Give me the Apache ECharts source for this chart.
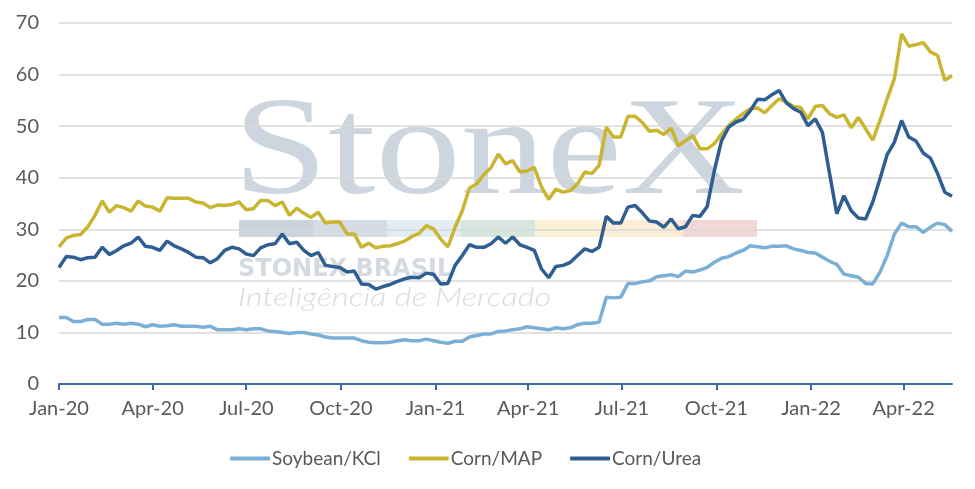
<!DOCTYPE html>
<html>
<head>
<meta charset="utf-8">
<script src="https://cdn.jsdelivr.net/npm/echarts@6/dist/echarts.min.js"></script>
<style>
  html, body { margin: 0; padding: 0; background: #fff; }
  #main { width: 975px; height: 489px; }
</style>
</head>
<body>
<div id="main"></div>
<script>
// weekly series, first point 1 Jan 2020
var startDate = Date.UTC(2020, 0, 1);
var endDate = Date.UTC(2022, 4, 18);

var seriesNames = ['Soybean/KCl', 'Corn/MAP', 'Corn/Urea'];
var seriesColors = ['#7bafd6', '#c9b52f', '#2f5e93'];

var soyKcl = [
    12.9, 12.9, 12.1, 12.1, 12.5, 12.5, 11.6, 11.6, 11.8, 11.6,
    11.8, 11.6, 11.1, 11.5, 11.2, 11.3, 11.5, 11.2, 11.2, 11.2,
    11.0, 11.2, 10.5, 10.5, 10.5, 10.7, 10.5, 10.7, 10.7, 10.3,
    10.2, 10.0, 9.8, 10.0, 10.0, 9.7, 9.5, 9.1, 8.9, 8.9,
    8.9, 8.9, 8.4, 8.1, 8.0, 8.0, 8.1, 8.4, 8.6, 8.4,
    8.4, 8.7, 8.4, 8.1, 7.9, 8.3, 8.3, 9.1, 9.4, 9.7,
    9.7, 10.2, 10.3, 10.5, 10.7, 11.1, 10.9, 10.7, 10.5, 10.9,
    10.7, 10.9, 11.5, 11.8, 11.8, 12.0, 16.8, 16.7, 16.8, 19.5,
    19.5, 19.8, 20.0, 20.8, 21.0, 21.2, 20.8, 21.9, 21.7, 22.1,
    22.6, 23.6, 24.4, 24.7, 25.4, 25.9, 26.8, 26.6, 26.4, 26.7,
    26.7, 26.8, 26.2, 25.9, 25.5, 25.4, 24.6, 23.8, 23.2, 21.3,
    21.0, 20.7, 19.5, 19.4, 21.7, 24.9, 29.1, 31.2, 30.5, 30.5,
    29.4, 30.4, 31.2, 30.9, 29.6
];

var cornMap = [
    26.6, 28.3, 28.8, 29.0, 30.5, 32.7, 35.5, 33.3, 34.6, 34.2,
    33.5, 35.5, 34.5, 34.3, 33.5, 36.1, 36.0, 36.0, 36.0, 35.3,
    35.1, 34.2, 34.7, 34.6, 34.8, 35.3, 33.8, 34.0, 35.6, 35.6,
    34.6, 35.3, 32.7, 34.1, 33.1, 32.3, 33.3, 31.2, 31.4, 31.4,
    29.1, 29.1, 26.5, 27.3, 26.4, 26.7, 26.8, 27.2, 27.7, 28.6,
    29.2, 30.7, 30.1, 28.1, 26.6, 30.4, 33.6, 38.0, 38.8, 40.6,
    42.0, 44.6, 42.7, 43.3, 41.1, 41.3, 42.0, 38.2, 35.8, 37.8,
    37.2, 37.5, 38.8, 41.1, 40.8, 42.4, 49.8, 47.9, 47.9, 51.9,
    51.9, 50.7, 49.0, 49.2, 48.4, 49.6, 46.2, 47.2, 48.2, 45.6,
    45.6, 46.6, 48.5, 50.1, 51.4, 52.4, 53.4, 53.5, 52.6, 54.0,
    55.3, 54.7, 53.8, 53.6, 51.4, 53.8, 54.0, 52.4, 51.7, 52.2,
    49.7, 51.7, 49.5, 47.3, 51.1, 55.3, 59.2, 67.9, 65.5, 65.8,
    66.2, 64.4, 63.7, 58.9, 59.8
];

var cornUrea = [
    22.6, 24.7, 24.6, 24.1, 24.5, 24.6, 26.5, 25.1, 25.9, 26.8,
    27.3, 28.5, 26.7, 26.5, 25.9, 27.7, 26.8, 26.2, 25.5, 24.6,
    24.5, 23.5, 24.3, 25.9, 26.5, 26.2, 25.2, 24.9, 26.4, 27.0,
    27.2, 29.1, 27.2, 27.5, 25.9, 24.9, 25.5, 23.0, 22.8, 22.6,
    21.7, 21.9, 19.4, 19.3, 18.4, 18.9, 19.3, 19.9, 20.4, 20.7,
    20.6, 21.5, 21.3, 19.4, 19.5, 23.0, 24.9, 27.0, 26.5, 26.5,
    27.2, 28.5, 27.3, 28.5, 27.0, 26.5, 25.9, 22.3, 20.6, 22.8,
    23.0, 23.6, 24.9, 26.2, 25.7, 26.5, 32.5, 31.2, 31.2, 34.3,
    34.6, 33.2, 31.6, 31.4, 30.4, 32.0, 30.1, 30.5, 32.7, 32.5,
    34.4, 41.4, 47.2, 49.8, 50.8, 51.3, 53.0, 55.2, 55.1, 56.1,
    56.9, 54.5, 53.4, 52.7, 50.1, 51.4, 48.8, 40.8, 33.0, 36.5,
    33.6, 32.2, 32.0, 35.3, 39.8, 44.5, 46.9, 51.1, 47.9, 47.1,
    44.8, 43.8, 40.8, 37.2, 36.4
];

var tickDates = [
    Date.UTC(2020, 0, 1), Date.UTC(2020, 3, 1), Date.UTC(2020, 6, 1), Date.UTC(2020, 9, 1),
    Date.UTC(2021, 0, 1), Date.UTC(2021, 3, 1), Date.UTC(2021, 6, 1), Date.UTC(2021, 9, 1),
    Date.UTC(2022, 0, 1), Date.UTC(2022, 3, 1)
];
var tickLabels = ['Jan-20', 'Apr-20', 'Jul-20', 'Oct-20', 'Jan-21', 'Apr-21',
    'Jul-21', 'Oct-21', 'Jan-22', 'Apr-22'];

var WEEK = 7 * 24 * 3600 * 1000;

function withDates(values) {
    var out = [];
    for (var i = 0; i < values.length; i++) {
        out.push([startDate + i * WEEK, values[i]]);
    }
    return out;
}

var font = 'Lato';
var labelColor = '#595959';

// faded logo behind the plot
var bandColors = ['#cbd3dc', '#d5dce6', '#e3edf6', '#d6e5dd', '#fcf0d6', '#fdecd6', '#f3d7d7'];
var logo = [
    {
        type: 'text', left: 233, top: 86, z: -5, scaleX: 1.22,
        style: { text: 'StoneX', font: '140px "Liberation Serif"', fill: '#cdd6de' }
    },
    {
        type: 'text', left: 238, top: 258, z: -5,
        style: { text: 'STONEX BRASIL', font: 'bold 24px "DejaVu Sans"', fill: '#d4dae0' }
    },
    {
        type: 'text', left: 238, top: 285, z: -5, scaleX: 1.3,
        style: { text: 'Inteligência de Mercado', font: 'italic 300 25px Lato', fill: '#d6dce2' }
    }
];
for (var b = 0; b < bandColors.length; b++) {
    logo.push({
        type: 'rect', z: -5,
        shape: { x: 239 + b * 74, y: 220, width: 74, height: 17 },
        style: { fill: bandColors[b] }
    });
}

var myChart = echarts.init(document.getElementById('main'));

var series = [];
var lines = [soyKcl, cornMap, cornUrea];
for (var s = 0; s < lines.length; s++) {
    series.push({
        name: seriesNames[s],
        type: 'line',
        symbol: 'none',
        color: seriesColors[s],
        lineStyle: { width: 3.5, color: seriesColors[s] },
        data: withDates(lines[s])
    });
}

option = {
    backgroundColor: '#fff',
    animation: false,
    graphic: logo,
    grid: { left: 59, right: 23, top: 23, bottom: 105 },
    legend: {
        left: 225,
        top: 444,
        itemWidth: 40,
        itemHeight: 4,
        itemGap: 28,
        icon: 'roundRect',
        textStyle: { fontFamily: font, fontSize: 19, color: labelColor, padding: [0, 0, 0, -3] },
        data: seriesNames
    },
    xAxis: {
        type: 'value',
        min: startDate,
        max: endDate,
        axisLine: { lineStyle: { color: '#3b6ba2', width: 2 } },
        axisTick: { show: true, length: 6, lineStyle: { color: '#3b6ba2', width: 2 }, customValues: tickDates },
        axisLabel: {
            customValues: tickDates,
            margin: 15,
            fontFamily: font,
            fontSize: 20,
            color: labelColor,
            formatter: function (v) {
                var idx = tickDates.indexOf(v);
                return idx >= 0 ? tickLabels[idx] : '';
            }
        },
        splitLine: { show: false }
    },
    yAxis: {
        type: 'value',
        min: 0,
        max: 70,
        interval: 10,
        axisLine: { show: false },
        axisTick: { show: false },
        axisLabel: { margin: 20, fontFamily: font, fontSize: 20, color: labelColor },
        splitLine: { lineStyle: { color: '#d9d9d9', width: 1.5 } }
    },
    series: series
};

myChart.setOption(option);
</script>
</body>
</html>
